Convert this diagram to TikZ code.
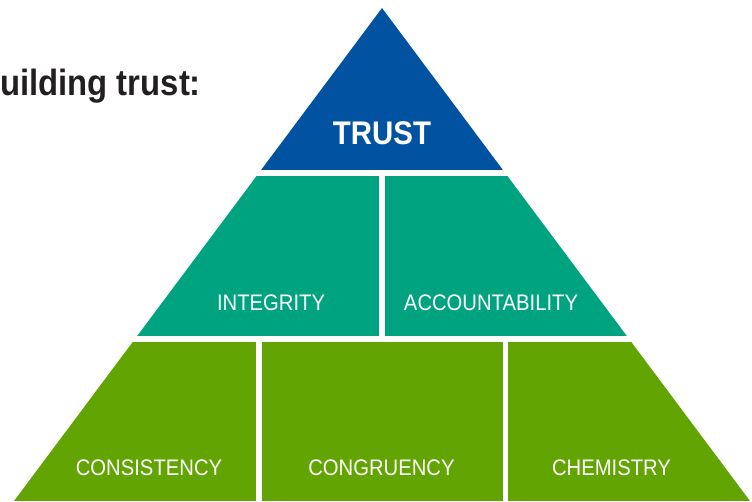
\documentclass[tikz,border=0pt]{standalone}
\usepackage{fontspec}
\setmainfont[FakeStretch=0.9]{Liberation Sans}
\usepackage{xcolor}

\definecolor{TrustBlue}{HTML}{0153A1}
\definecolor{MidTeal}{HTML}{00A380}
\definecolor{BaseGreen}{HTML}{62A502}
\definecolor{HeadGray}{HTML}{231F20}

\tikzset{
  TierLabel/.style = {text=white, inner sep=0pt, font=\fontsize{22.5}{22.5}\selectfont},
  TopLabel/.style  = {text=white, inner sep=0pt, font=\bfseries\fontsize{32.7}{32.7}\selectfont},
  HeadLabel/.style = {text=HeadGray, inner sep=0pt, anchor=base west, font=\bfseries\fontsize{36.5}{36.5}\selectfont}
}

\begin{document}
\begin{tikzpicture}[x=1pt,y=-1pt]
  \useasboundingbox (0,0) rectangle (752,501);
  %% outline of the pyramid
  \coordinate (apex)  at (382,8);
  \coordinate (baseL) at (14,501);
  \coordinate (baseR) at (750,501);
  \begin{scope}
    \clip (apex) -- (baseL) -- (baseR) -- cycle;
    %% top, middle, base tiers
    \fill[TrustBlue] (0,0)     rectangle (752,170);
    \fill[MidTeal]   (0,176)   rectangle (379,336);
    \fill[MidTeal]   (385,176) rectangle (752,336);
    \fill[BaseGreen] (0,342)   rectangle (256,501);
    \fill[BaseGreen] (261.5,342) rectangle (502.5,501);
    \fill[BaseGreen] (508,342) rectangle (752,501);
  \end{scope}
  %% labels
  \node[HeadLabel] (head) at (0,95.5) {uilding trust:};
  \node[TopLabel]  (trust)          at (382,133.7)   {TRUST};
  \node[TierLabel] (integrity)      at (271,302.5)   {INTEGRITY};
  \node[TierLabel] (accountability) at (491,302.7)   {ACCOUNTABILITY};
  \node[TierLabel] (consistency)    at (149,468)     {CONSISTENCY};
  \node[TierLabel] (congruency)     at (381.5,468)   {CONGRUENCY};
  \node[TierLabel] (chemistry)      at (611.5,468)   {CHEMISTRY};
\end{tikzpicture}
\end{document}
